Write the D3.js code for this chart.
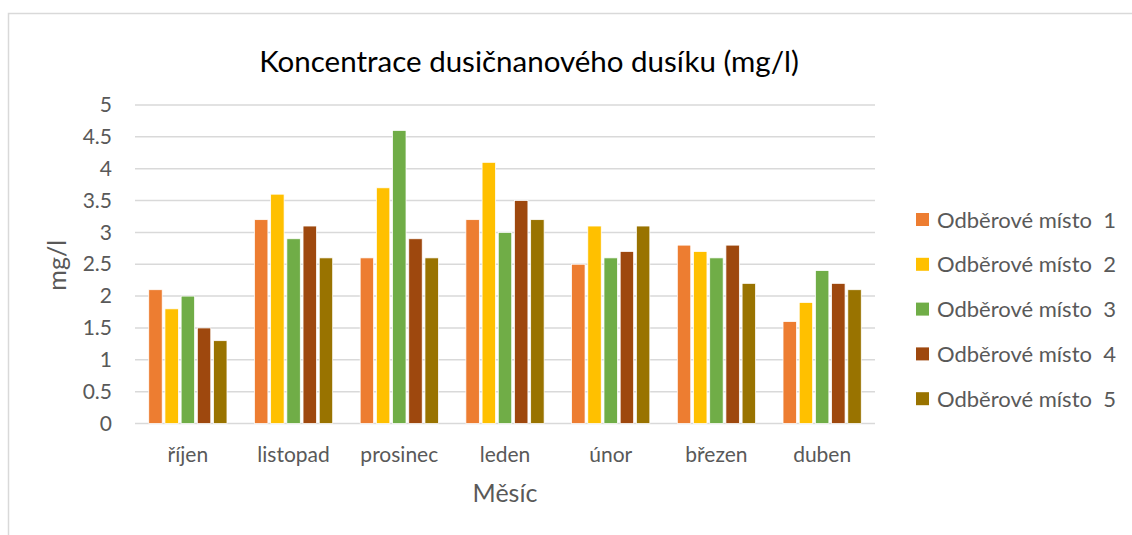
<!DOCTYPE html>
<html>
<head>
<meta charset="utf-8">
<script src="https://cdn.jsdelivr.net/npm/d3@7"></script>
<style>
  body { margin: 0; background: #fff; }
  svg text { font-family: Lato, "Open Sans", sans-serif; }
</style>
</head>
<body>
<svg id="chart" width="1132" height="535"></svg>
<script>
var months = ['říjen', 'listopad', 'prosinec', 'leden', 'únor', 'březen', 'duben'];
var seriesNames = ['Odběrové místo  1', 'Odběrové místo  2', 'Odběrové místo  3', 'Odběrové místo  4', 'Odběrové místo  5'];
var seriesColors = ['#ed7d31', '#ffc000', '#70ad47', '#9e480e', '#997300'];
var site1 = [2.1, 3.2, 2.6, 3.2, 2.5, 2.8, 1.6];
var site2 = [1.8, 3.6, 3.7, 4.1, 3.1, 2.7, 1.9];
var site3 = [2.0, 2.9, 4.6, 3.0, 2.6, 2.6, 2.4];
var site4 = [1.5, 3.1, 2.9, 3.5, 2.7, 2.8, 2.2];
var site5 = [1.3, 2.6, 2.6, 3.2, 3.1, 2.2, 2.1];
var yTicks = [0, 0.5, 1, 1.5, 2, 2.5, 3, 3.5, 4, 4.5, 5];

var seriesValues = [site1, site2, site3, site4, site5];

var svg = d3.select('#chart');

// chart frame (only top and left edge are visible)
svg.append('rect')
  .attr('x', 8.5).attr('y', 13.5)
  .attr('width', 1140).attr('height', 540)
  .attr('fill', 'none')
  .attr('stroke', '#d9d9d9')
  .attr('stroke-width', 1.5);

var plot = {left: 135, right: 875, top: 105, bottom: 423.5};

var x = d3.scaleBand()
  .domain(months)
  .range([plot.left, plot.right])
  .paddingInner(0.26)
  .paddingOuter(0.13);

var xInner = d3.scaleBand()
  .domain(d3.range(seriesNames.length))
  .range([0, x.bandwidth()])
  .paddingInner(0.17);

var y = d3.scaleLinear()
  .domain([0, 5])
  .range([plot.bottom, plot.top]);

// gridlines
svg.append('g')
  .selectAll('line')
  .data(yTicks)
  .enter()
  .append('line')
  .attr('x1', plot.left).attr('x2', plot.right)
  .attr('y1', function(d) { return y(d); })
  .attr('y2', function(d) { return y(d); })
  .attr('stroke', '#d9d9d9')
  .attr('stroke-width', 1.5);

// y axis labels
var yAxis = d3.axisLeft(y)
  .tickValues(yTicks)
  .tickSize(0)
  .tickPadding(23)
  .tickFormat(function(d) { return String(d); });

var yg = svg.append('g')
  .attr('transform', 'translate(' + plot.left + ',0)')
  .call(yAxis);
yg.select('.domain').remove();
yg.selectAll('text')
  .attr('fill', '#595959')
  .style('font-size', '21px');

// bars
var groups = svg.append('g')
  .selectAll('g')
  .data(months)
  .enter()
  .append('g')
  .attr('transform', function(d) { return 'translate(' + x(d) + ',0)'; });

groups.selectAll('rect')
  .data(function(m, i) {
    return seriesValues.map(function(vals, s) { return {s: s, v: vals[i]}; });
  })
  .enter()
  .append('rect')
  .attr('x', function(d) { return xInner(d.s); })
  .attr('width', xInner.bandwidth())
  .attr('y', function(d) { return y(d.v); })
  .attr('height', function(d) { return y(0) - y(d.v); })
  .attr('fill', function(d) { return seriesColors[d.s]; })
  .attr('stroke', '#fff')
  .attr('stroke-width', 0.75);

// x axis labels
var xAxis = d3.axisBottom(x)
  .tickSize(0)
  .tickPadding(24);

var xg = svg.append('g')
  .attr('transform', 'translate(0,' + plot.bottom + ')')
  .call(xAxis);
xg.select('.domain').remove();
xg.selectAll('text')
  .attr('fill', '#595959')
  .style('font-size', '21px');

// title
svg.append('text')
  .attr('x', 529)
  .attr('y', 72)
  .attr('text-anchor', 'middle')
  .attr('fill', '#000')
  .style('font-size', '29.5px')
  .text('Koncentrace dusičnanového dusíku (mg/l)');

// axis titles
svg.append('text')
  .attr('transform', 'translate(66,' + ((plot.top + plot.bottom) / 2 + 1) + ') rotate(-90)')
  .attr('text-anchor', 'middle')
  .attr('fill', '#595959')
  .style('font-size', '25px')
  .text('mg/l');

svg.append('text')
  .attr('x', (plot.left + plot.right) / 2)
  .attr('y', 502)
  .attr('text-anchor', 'middle')
  .attr('fill', '#595959')
  .style('font-size', '25px')
  .text('Měsíc');

// legend
var legend = svg.append('g')
  .selectAll('g')
  .data(seriesNames)
  .enter()
  .append('g')
  .attr('transform', function(d, i) { return 'translate(916,' + (219.5 + i * 44.8) + ')'; });

legend.append('rect')
  .attr('x', 0).attr('y', -6.5)
  .attr('width', 13).attr('height', 13)
  .attr('fill', function(d, i) { return seriesColors[i]; });

legend.append('text')
  .attr('x', 21)
  .attr('y', 8)
  .attr('fill', '#595959')
  .style('font-size', '22px')
  .style('white-space', 'pre')
  .text(function(d) { return d; });
</script>
</body>
</html>
